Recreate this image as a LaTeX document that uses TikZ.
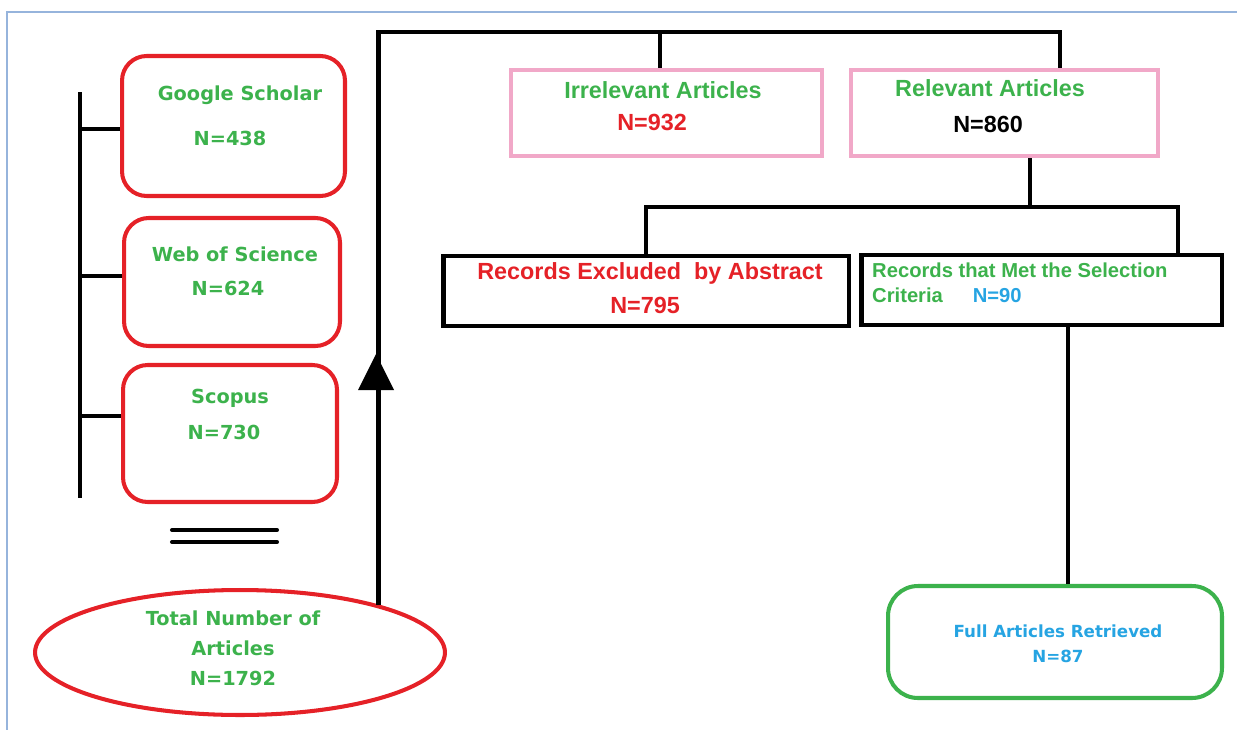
\documentclass[tikz,border=0pt]{standalone}
\usepackage{fontspec}
\setmainfont{DejaVu Sans}
\newfontfamily\arialfont{Liberation Sans}
\usetikzlibrary{shapes.geometric}

\definecolor{srcred}{RGB}{229,33,39}
\definecolor{boxpink}{RGB}{241,168,200}
\definecolor{txtgreen}{RGB}{60,178,76}
\definecolor{txtblue}{RGB}{38,164,226}
\definecolor{framebl}{RGB}{150,180,220}

\begin{document}
\begin{tikzpicture}[x=0.02cm,y=-0.02cm,
    conn/.style={line width=2.8pt},
    srcbox/.style={draw=srcred,line width=2.3pt,rounded corners=14pt,inner sep=0pt},
    pinkbox/.style={draw=boxpink,line width=2.3pt,inner sep=0pt},
    blackbox/.style={draw=black,line width=2.8pt,inner sep=0pt},
    greentxt/.style={text=txtgreen,font=\fontsize{11}{17}\selectfont\bfseries,align=center},
    arialtxt/.style={font=\arialfont\fontsize{13.3}{16}\selectfont\bfseries}]

    \useasboundingbox (0,0) rectangle (1237,730);
    \draw[framebl, line width=0.8pt] (7,730) -- (7,12) -- (1237,12);

    % sources
    \node[srcbox, minimum width=4.46cm, minimum height=2.8cm] (gs) at (233.5,126) {};
    \node[srcbox, minimum width=4.32cm, minimum height=2.56cm] (wos) at (232,282) {};
    \node[srcbox, minimum width=4.28cm, minimum height=2.74cm] (sco) at (230,433.5) {};
    \node[greentxt] (gst) at (240,95) {Google Scholar};
    \node[greentxt] (gsn) at (230,138) {N=438};
    \node[greentxt] (wost) at (235,254) {Web of Science};
    \node[greentxt] (wosn) at (228,288) {N=624};
    \node[greentxt] (scot) at (230,398) {Scopus};
    \node[greentxt] (scon) at (224,432) {N=730};

    \draw[conn, line width=2.3pt] (80,92) -- (80,498);
    \draw[conn, line width=2.3pt] (80,129) -- (80,129 -| gs.west);
    \draw[conn, line width=2.3pt] (80,276) -- (80,276 -| wos.west);
    \draw[conn, line width=2.3pt] (80,416) -- (80,416 -| sco.west);

    \draw[line width=2.3pt, line cap=round] (172,530) -- (277,530);
    \draw[line width=2.3pt, line cap=round] (172,542) -- (277,542);

    \node[ellipse, draw=srcred, line width=2.3pt, inner sep=0pt, minimum width=8.2cm, minimum height=2.5cm] (total) at (240,652.5) {};
    \node[greentxt] (totalt) at (233,648) {Total Number of\\Articles\\N=1792};

    % screening
    \node[pinkbox, minimum width=6.22cm, minimum height=1.72cm] (irr) at (666.5,113) {};
    \node[pinkbox, minimum width=6.14cm, minimum height=1.72cm] (rel) at (1004.5,113) {};
    \node[arialtxt, text=txtgreen] (irrt) at (663,90) {Irrelevant Articles};
    \node[arialtxt, text=srcred] (irrn) at (652,122) {N=932};
    \node[arialtxt, text=txtgreen] (relt) at (990,88) {Relevant Articles};
    \node[arialtxt, text=black] (reln) at (988,124) {N=860};

    \node[blackbox, minimum width=8.12cm, minimum height=1.4cm] (excl) at (646,291) {};
    \node[blackbox, minimum width=7.22cm, minimum height=1.4cm] (met) at (1041.5,290) {};
    \node[arialtxt, text=srcred] (exclt) at (650,273) {Records Excluded\ \ by Abstract};
    \node[arialtxt, text=srcred] (excln) at (645,305) {N=795};
    \node[arialtxt, text=txtgreen, font=\arialfont\fontsize{11.5}{14}\selectfont\bfseries, anchor=west] (mett) at (866,270) {Records that Met the Selection};
    \node[arialtxt, text=txtgreen, font=\arialfont\fontsize{11.5}{14}\selectfont\bfseries, anchor=west] (metn) at (866,295) {Criteria\hspace{17pt}\textcolor{txtblue}{N=90}};

    \node[draw=txtgreen, line width=2.3pt, rounded corners=17pt, inner sep=0pt, minimum width=6.68cm, minimum height=2.24cm] (full) at (1055,642) {};
    \node[text=txtblue, font=\fontsize{9.5}{14}\selectfont\bfseries, align=center] (fullt) at (1058,644) {Full Articles Retrieved\\N=87};

    % connectors
    \coordinate (topL) at (376,32);
    \coordinate (topR) at (1060,32);
    \draw[conn] (total.19) -- (total.19 |- topL) -- (topR) -- (topR |- rel.north);
    \draw[conn] (660,32) -- (660,32 |- irr.north);
    \fill (358,390) -- (376,354) -- (394,390) -- cycle;

    \coordinate (split) at (1030,207);
    \draw[conn] (split |- rel.south) -- (split);
    \draw[conn] (646,207 |- excl.north) -- (646,207) -- (1178,207) -- (1178,207 |- met.north);

    \draw[conn] (1068,0 |- met.south) -- (1068,0 |- full.north);

\end{tikzpicture}
\end{document}
